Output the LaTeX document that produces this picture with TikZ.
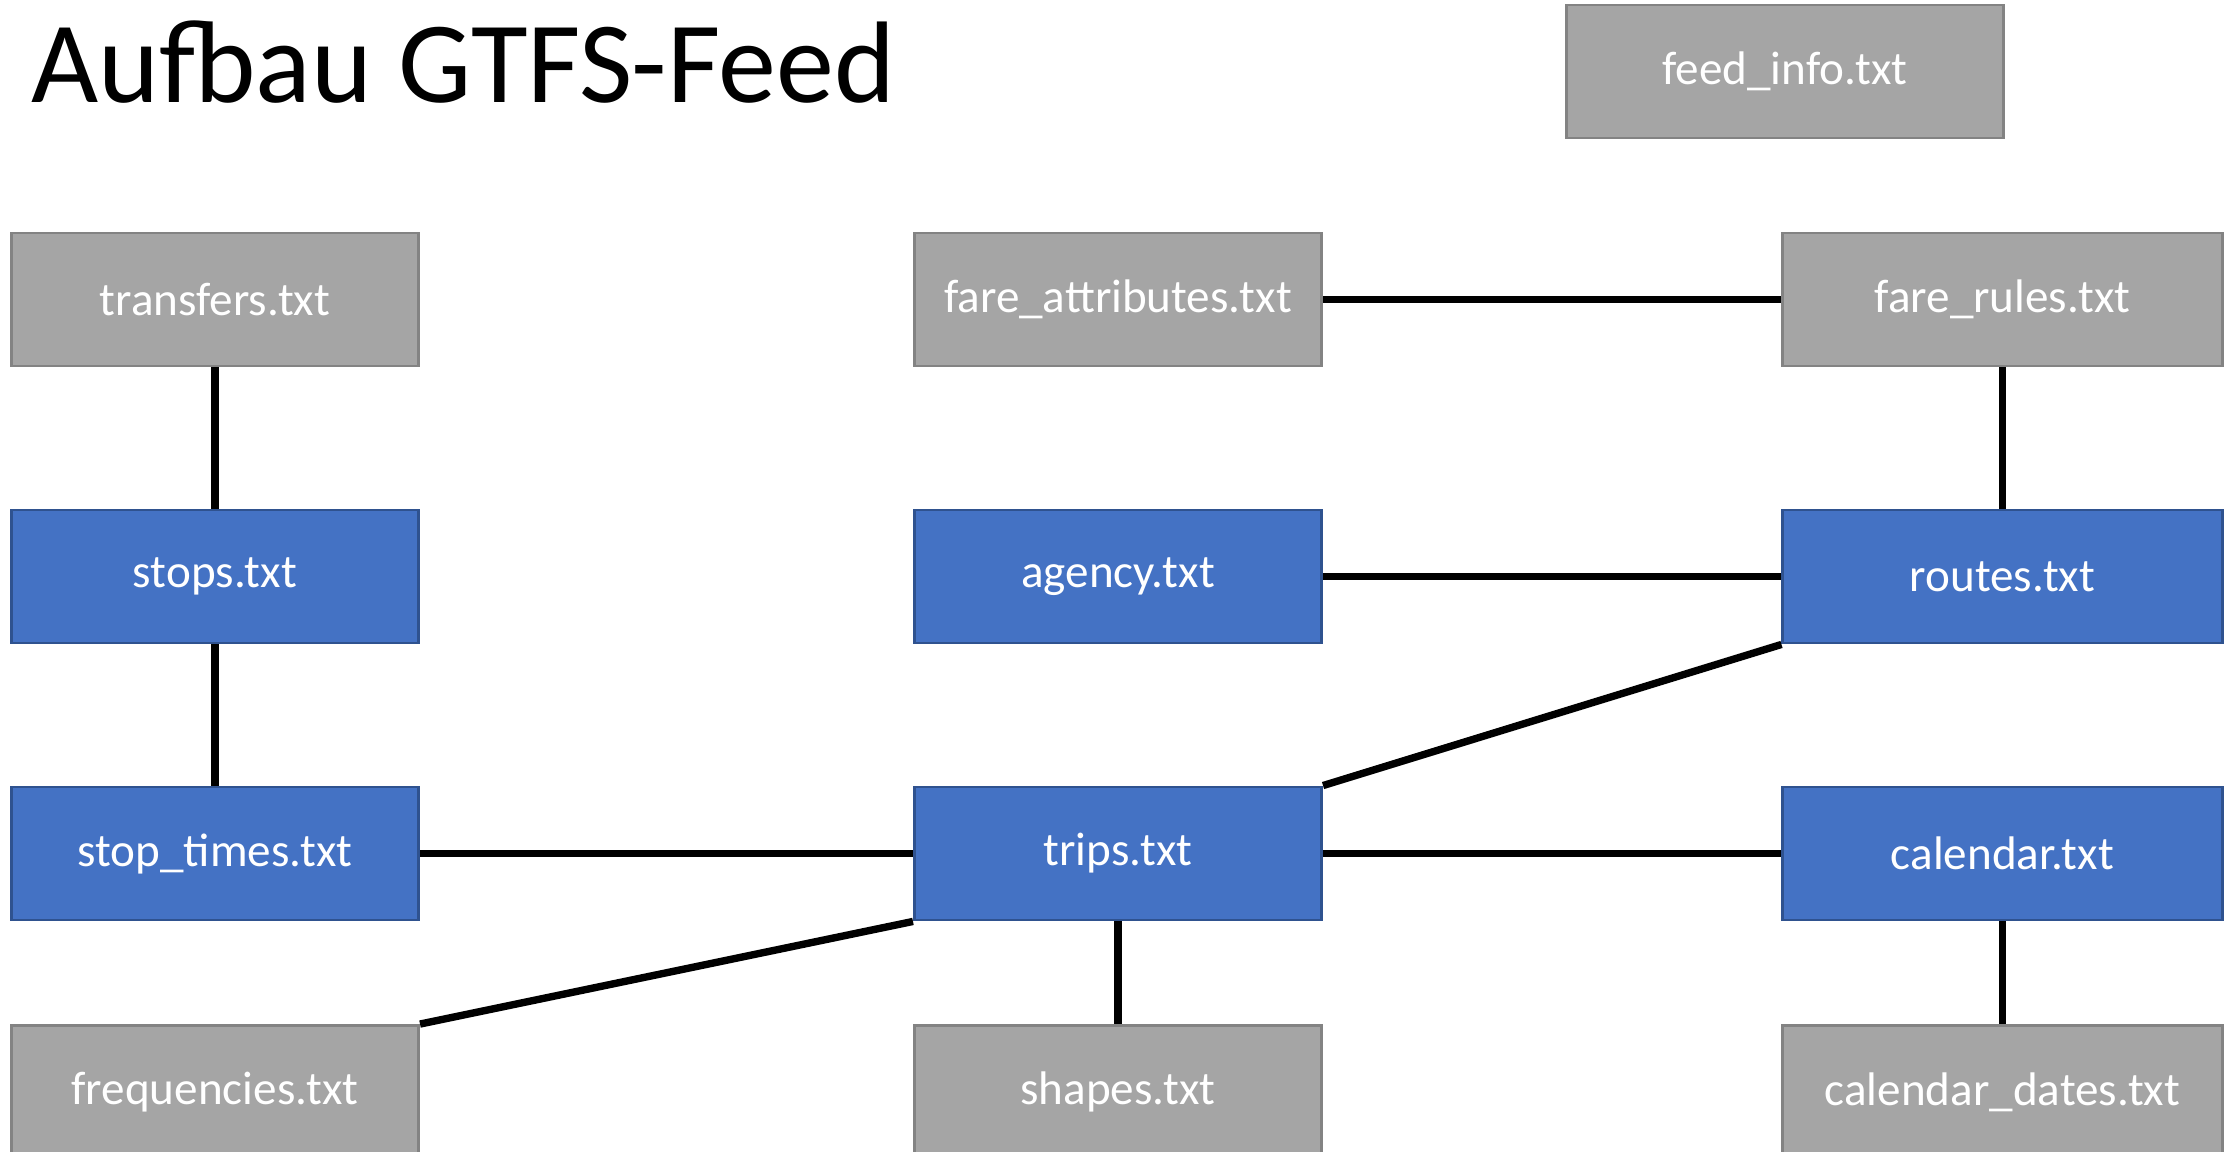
\documentclass[tikz,border=0pt]{standalone}
\usepackage{fontspec}
\setmainfont{Carlito}
\definecolor{boxgrey}{HTML}{A5A5A5}
\definecolor{boxgreyline}{HTML}{838383}
\definecolor{boxblue}{HTML}{4472C4}
\definecolor{boxblueline}{HTML}{2F528F}

\begin{document}
\begin{tikzpicture}[x=0.01cm,y=-0.01cm]
		\tikzstyle{every node}+=[inner sep=0pt]
		\tikzstyle{greybox}=[draw=boxgreyline,fill=boxgrey,line width=0.8pt,text=white,minimum height=1.33cm,font=\fontsize{13.4}{16}\selectfont]
		\tikzstyle{bluebox}=[greybox,draw=boxblueline,fill=boxblue]
		\tikzstyle{link}=[black,line width=2.1pt]
		\clip (0,0) rectangle (2234,1152);
		\draw (31,103) node [anchor=base west,font=\fontsize{33}{38}\selectfont] (title) {Aufbau GTFS-Feed};
		\draw (1785,71.5) node [greybox,minimum width=4.37cm] (feedinfo) {feed\_info.txt};
		% files
		\draw (215,299.5) node [greybox,minimum width=4.07cm] (transfers) {transfers.txt};
		\draw (1118,299.5) node [greybox,minimum width=4.07cm] (fareattr) {fare\_attributes.txt};
		\draw (2002.5,299.5) node [greybox,minimum width=4.39cm] (farerules) {fare\_rules.txt};
		\draw (215,576.5) node [bluebox,minimum width=4.07cm] (stops) {stops.txt};
		\draw (1118,576.5) node [bluebox,minimum width=4.07cm] (agency) {agency.txt};
		\draw (2002.5,576.5) node [bluebox,minimum width=4.39cm] (routes) {routes.txt};
		\draw (215,853.5) node [bluebox,minimum width=4.07cm] (stoptimes) {stop\_times.txt};
		\draw (1118,853.5) node [bluebox,minimum width=4.07cm] (trips) {trips.txt};
		\draw (2002.5,853.5) node [bluebox,minimum width=4.39cm] (calendar) {calendar.txt};
		\draw (215,1092) node [greybox,minimum width=4.07cm] (frequencies) {frequencies.txt};
		\draw (1118,1092) node [greybox,minimum width=4.07cm] (shapes) {shapes.txt};
		\draw (2002.5,1092) node [greybox,minimum width=4.39cm] (caldates) {calendar\_dates.txt};
		% links
		\draw [link] (transfers) -- (stops);
		\draw [link] (stops) -- (stoptimes);
		\draw [link] (fareattr) -- (farerules);
		\draw [link] (farerules) -- (routes);
		\draw [link] (agency) -- (routes);
		\draw [link] (routes.south west) -- (trips.north east);
		\draw [link] (stoptimes) -- (trips);
		\draw [link] (trips) -- (calendar);
		\draw [link] (trips.south west) -- (frequencies.north east);
		\draw [link] (trips) -- (shapes);
		\draw [link] (calendar) -- (caldates);
	\end{tikzpicture}
\end{document}
